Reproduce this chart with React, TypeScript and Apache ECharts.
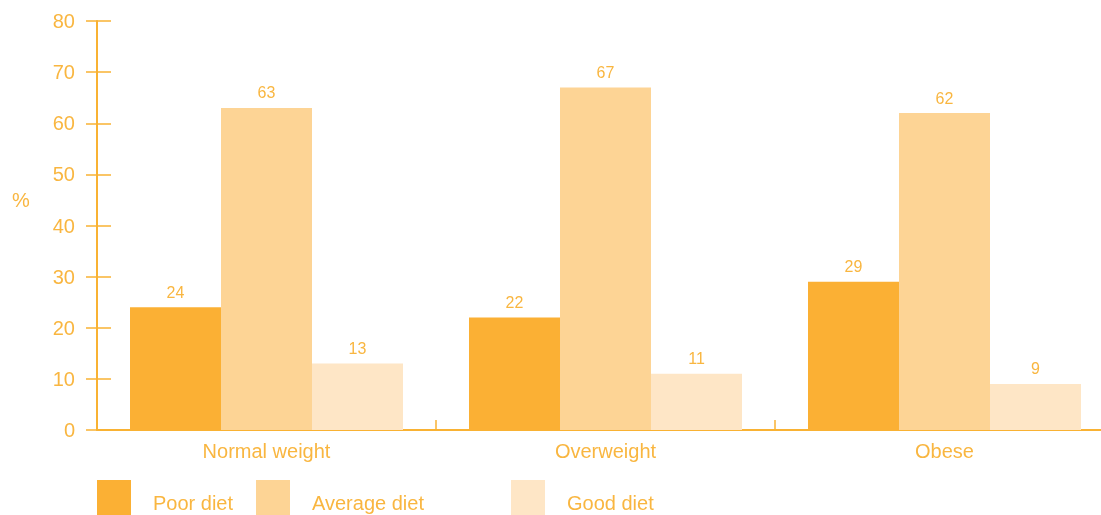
import React, { useEffect, useRef } from "react";
import * as echarts from "echarts";

const categories = ["Normal weight", "Overweight", "Obese"];
const poorDiet = [24, 22, 29];
const averageDiet = [63, 67, 62];
const goodDiet = [13, 11, 9];
const seriesNames = ["Poor diet", "Average diet", "Good diet"];
const yAxisUnit = "%";

const AXIS = "#F9B233";
const TEXT = "#F9B640";
const COLORS = ["#FBB034", "#FDD495", "#FEE6C6"];
const FONT = "'Liberation Sans', Arial, sans-serif";

export default function App() {
  const ref = useRef<HTMLDivElement>(null);
  useEffect(() => {
    if (!ref.current) return;
    const chart = echarts.init(ref.current, undefined, { renderer: "svg" });
    const data = [poorDiet, averageDiet, goodDiet];
    const legendLefts = [97, 256, 511];
    const gridBox = { left: 97, top: 21, width: 1017, height: 409, containLabel: false };
    chart.setOption({
      animation: false,
      textStyle: { fontFamily: FONT },
      grid: [gridBox, { ...gridBox }],
      graphic: [
        {
          type: "text",
          left: 12,
          top: 190,
          style: { text: yAxisUnit, fill: TEXT, fontSize: 20, fontFamily: FONT },
        },
      ],
      legend: seriesNames.map((n, i) => ({
        data: [n],
        left: legendLefts[i],
        top: 480,
        padding: 0,
        itemWidth: 34,
        itemHeight: 46,
        icon: "path://M0,0L34,0L34,35L0,35Z M34,46L34,46Z",
        symbolKeepAspect: false,
        selectedMode: false,
        textStyle: { color: TEXT, fontSize: 20, fontFamily: FONT, padding: [0, 0, 0, 17] },
      })),
      xAxis: [
        {
          type: "category",
          gridIndex: 0,
          data: categories,
          axisLine: { show: true, lineStyle: { color: AXIS, width: 2 } },
          axisTick: { show: true, inside: true, length: 10, lineStyle: { color: AXIS, width: 1.5 } },
          axisLabel: { color: TEXT, fontSize: 20, margin: 11, fontFamily: FONT },
        },
        {
          type: "category",
          gridIndex: 1,
          data: categories,
          show: false,
        },
      ],
      yAxis: [
        {
          type: "value",
          gridIndex: 0,
          min: 0,
          max: 80,
          interval: 10,
          axisLine: { show: true, lineStyle: { color: AXIS, width: 2 } },
          axisTick: { show: true, length: 11, lineStyle: { color: AXIS, width: 1.5 } },
          axisLabel: { color: TEXT, fontSize: 20, margin: 22, fontFamily: FONT },
          splitLine: { show: false },
        },
        {
          type: "value",
          gridIndex: 1,
          min: 0,
          max: 80,
          interval: 10,
          position: "left",
          axisLine: { show: false },
          axisTick: { show: true, inside: true, length: 14, lineStyle: { color: AXIS, width: 1.5 } },
          axisLabel: { show: false },
          splitLine: { show: false },
        },
      ],
      series: seriesNames.map((n, i) => ({
        name: n,
        type: "bar",
        xAxisIndex: 0,
        yAxisIndex: 0,
        data: data[i],
        barWidth: 91,
        barGap: "0%",
        itemStyle: { color: COLORS[i] },
        label: {
          show: true,
          position: "top",
          distance: 7,
          color: TEXT,
          fontSize: 16,
          fontFamily: FONT,
        },
      })),
    });
    return () => chart.dispose();
  }, []);
  return (
    <div style={{ position: "fixed", left: 0, top: 0, width: 1101, height: 515, overflow: "hidden" }}>
      <div ref={ref} style={{ width: 1130, height: 515 }} />
    </div>
  );
}
